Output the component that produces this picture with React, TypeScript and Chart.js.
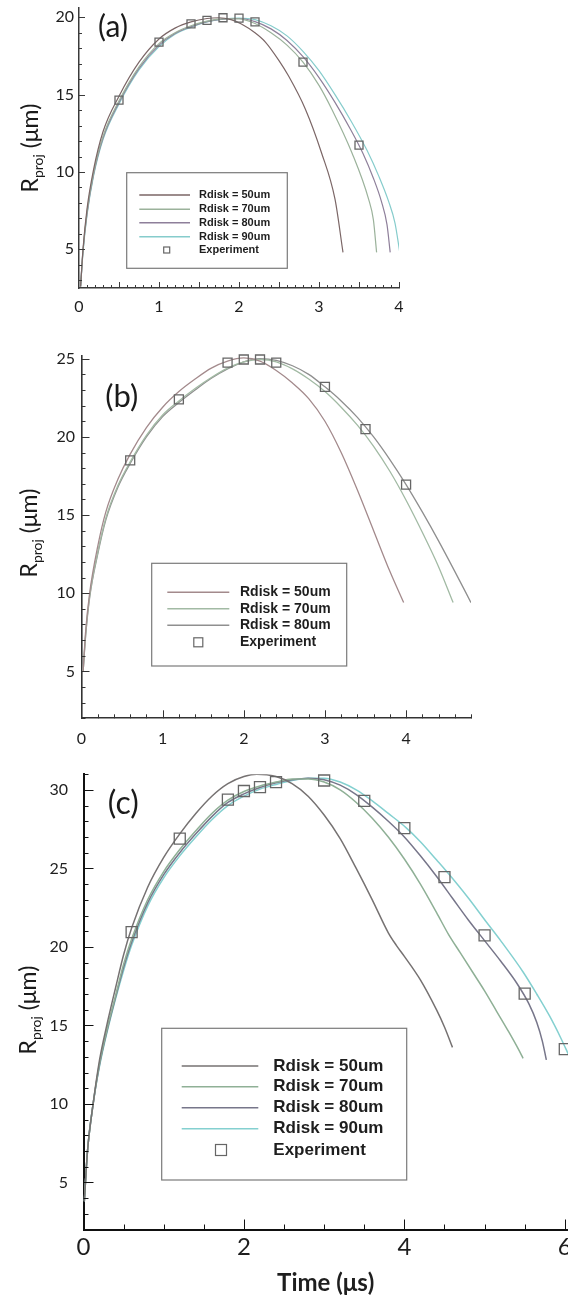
import React, { useEffect, useRef } from 'react';
import { Chart, registerables } from 'chart.js';

Chart.register(...registerables);

// ---------------- Panel (a) data ----------------
const tA50 = [0.02, 0.05, 0.1, 0.18, 0.3, 0.5, 0.75, 1.0, 1.2, 1.4, 1.6, 1.75, 1.9, 2.03, 2.2, 2.33, 2.5, 2.62, 2.83, 3.03, 3.2, 3.3];
const rA50 = [2.6, 5.0, 7.6, 10.1, 12.6, 14.9, 17.1, 18.6, 19.3, 19.7, 19.92, 19.97, 19.85, 19.57, 19.0, 18.4, 17.2, 16.2, 14.06, 11.26, 8.24, 4.8];
const tA70 = [0.02, 0.05, 0.1, 0.18, 0.3, 0.5, 0.75, 1.0, 1.2, 1.4, 1.6, 1.8, 2.0, 2.2, 2.4, 2.6, 2.8, 3.0, 3.16, 3.41, 3.62, 3.68, 3.72];
const rA70 = [2.6, 4.9, 7.4, 9.9, 12.3, 14.6, 16.8, 18.3, 19.0, 19.45, 19.75, 19.9, 19.9, 19.6, 19.0, 18.2, 17.1, 15.6, 14.06, 11.26, 8.24, 6.9, 4.8];
const tA80 = [0.02, 0.05, 0.1, 0.18, 0.3, 0.5, 0.75, 1.0, 1.2, 1.4, 1.6, 1.8, 2.0, 2.2, 2.4, 2.6, 2.8, 3.0, 3.2, 3.4, 3.55, 3.68, 3.78, 3.85, 3.89];
const rA80 = [2.6, 4.9, 7.3, 9.8, 12.2, 14.5, 16.7, 18.2, 18.95, 19.4, 19.72, 19.88, 19.92, 19.72, 19.25, 18.5, 17.45, 16.1, 14.5, 12.7, 11.2, 9.6, 8.1, 6.6, 4.8];
const tA90 = [0.02, 0.05, 0.1, 0.18, 0.3, 0.5, 0.75, 1.0, 1.2, 1.4, 1.6, 1.8, 2.0, 2.2, 2.4, 2.6, 2.8, 3.0, 3.2, 3.4, 3.6, 3.75, 3.87, 3.95, 4.01];
const rA90 = [2.6, 4.8, 7.2, 9.7, 12.1, 14.4, 16.6, 18.1, 18.9, 19.35, 19.7, 19.88, 19.95, 19.85, 19.45, 18.8, 17.8, 16.55, 15.0, 13.3, 11.4, 9.7, 8.1, 6.7, 4.8];
const tAexp = [0.5, 1.0, 1.4, 1.6, 1.8, 2.0, 2.2, 2.8, 3.5];
const rAexp = [14.65, 18.4, 19.58, 19.8, 19.97, 19.95, 19.7, 17.1, 11.73];
const xTicksA = [0, 1, 2, 3, 4];
const yTicksA = [5, 10, 15, 20];

// ---------------- Panel (b) data ----------------
const tB50 = [0.02, 0.05, 0.1, 0.2, 0.3, 0.45, 0.6, 0.8, 1.0, 1.2, 1.4, 1.6, 1.8, 2.0, 2.2, 2.4, 2.6, 2.8, 3.0, 3.2, 3.4, 3.6, 3.8, 3.97];
const rB50 = [5.0, 7.5, 10.0, 13.0, 15.2, 17.3, 18.9, 20.6, 21.9, 22.9, 23.7, 24.4, 24.85, 25.05, 24.85, 24.25, 23.45, 22.45, 21.0, 19.0, 16.6, 14.0, 11.4, 9.4];
const tB70 = [0.02, 0.05, 0.1, 0.2, 0.3, 0.45, 0.6, 0.8, 1.0, 1.2, 1.4, 1.6, 1.8, 2.0, 2.2, 2.4, 2.6, 2.8, 3.0, 3.2, 3.4, 3.6, 3.8, 4.0, 4.2, 4.4, 4.58];
const rB70 = [5.0, 7.3, 9.8, 12.6, 14.8, 16.9, 18.4, 20.1, 21.4, 22.3, 23.1, 23.8, 24.4, 24.8, 24.95, 24.8, 24.35, 23.7, 22.9, 21.9, 20.75, 19.4, 17.8, 15.95, 13.9, 11.7, 9.4];
const tB80 = [0.02, 0.05, 0.1, 0.2, 0.3, 0.45, 0.6, 0.8, 1.0, 1.2, 1.4, 1.6, 1.8, 2.0, 2.2, 2.4, 2.6, 2.8, 3.0, 3.2, 3.4, 3.6, 3.8, 4.0, 4.2, 4.4, 4.6, 4.8];
const rB80 = [5.0, 7.2, 9.7, 12.5, 14.7, 16.8, 18.3, 20.0, 21.3, 22.2, 23.0, 23.75, 24.35, 24.8, 25.0, 24.9, 24.55, 24.0, 23.2, 22.3, 21.25, 20.0, 18.55, 16.95, 15.2, 13.35, 11.4, 9.4];
const tBexp = [0.6, 1.2, 1.8, 2.0, 2.2, 2.4, 3.0, 3.5, 4.0];
const rBexp = [18.5, 22.4, 24.75, 24.95, 24.95, 24.75, 23.2, 20.5, 16.95];
const xTicksB = [0, 1, 2, 3, 4];
const yTicksB = [5, 10, 15, 20, 25];

// ---------------- Panel (c) data ----------------
const tC50 = [0.01, 0.05, 0.12, 0.2, 0.29, 0.4, 0.5, 0.6, 0.8, 1.0, 1.2, 1.4, 1.6, 1.8, 2.0, 2.16, 2.4, 2.6, 2.8, 3.0, 3.2, 3.4, 3.6, 3.8, 3.9, 4.0, 4.2, 4.4, 4.5, 4.6];
const rC50 = [3.8, 7.0, 10.0, 12.8, 15.0, 17.4, 19.5, 21.2, 23.8, 25.7, 27.2, 28.5, 29.6, 30.4, 30.85, 31.0, 30.85, 30.4, 29.6, 28.4, 26.9, 25.0, 23.0, 20.9, 20.1, 19.4, 17.9, 16.0, 14.9, 13.6];
const tC70 = [0.01, 0.05, 0.12, 0.2, 0.3, 0.4, 0.5, 0.6, 0.8, 1.0, 1.2, 1.4, 1.6, 1.8, 2.0, 2.2, 2.4, 2.6, 2.8, 3.0, 3.2, 3.4, 3.6, 3.8, 4.0, 4.2, 4.4, 4.55, 4.7, 4.85, 5.0, 5.15, 5.3, 5.42, 5.48];
const rC70 = [3.8, 7.0, 10.0, 12.6, 14.9, 16.9, 18.9, 20.5, 23.0, 24.8, 26.2, 27.4, 28.5, 29.35, 29.9, 30.25, 30.5, 30.7, 30.7, 30.5, 30.0, 29.2, 28.2, 27.0, 25.6, 24.0, 22.2, 20.8, 19.6, 18.4, 17.2, 15.9, 14.6, 13.5, 12.9];
const tC80 = [0.01, 0.05, 0.12, 0.2, 0.3, 0.4, 0.5, 0.6, 0.8, 1.0, 1.2, 1.4, 1.6, 1.8, 2.0, 2.2, 2.4, 2.6, 2.8, 3.0, 3.2, 3.4, 3.6, 3.8, 4.0, 4.2, 4.4, 4.6, 4.8, 5.0, 5.2, 5.4, 5.55, 5.65, 5.72, 5.77];
const rC80 = [3.8, 7.0, 10.0, 12.5, 14.8, 16.8, 18.7, 20.3, 22.8, 24.6, 26.0, 27.2, 28.3, 29.2, 29.75, 30.15, 30.45, 30.65, 30.75, 30.65, 30.3, 29.7, 28.9, 28.0, 27.0, 25.8, 24.5, 23.1, 21.7, 20.4, 19.1, 17.7, 16.4, 15.2, 14.0, 12.8];
const tC90 = [0.01, 0.05, 0.12, 0.2, 0.3, 0.4, 0.5, 0.6, 0.8, 1.0, 1.2, 1.4, 1.6, 1.8, 2.0, 2.2, 2.4, 2.6, 2.8, 3.0, 3.2, 3.4, 3.6, 3.8, 4.02, 4.2, 4.4, 4.52, 4.8, 5.02, 5.2, 5.48, 5.65, 5.81, 5.95, 6.05];
const rC90 = [3.8, 7.0, 10.0, 12.4, 14.7, 16.7, 18.5, 20.1, 22.6, 24.4, 25.8, 27.0, 28.1, 29.0, 29.6, 30.05, 30.35, 30.6, 30.75, 30.75, 30.5, 30.0, 29.3, 28.5, 27.6, 26.7, 25.55, 24.85, 23.1, 21.6, 20.4, 18.4, 17.0, 15.6, 14.2, 13.1];
const tCexp = [0.6, 1.2, 1.8, 2.0, 2.2, 2.4, 3.0, 3.5, 4.0, 4.5, 5.0, 5.5, 6.0];
const rCexp = [20.94, 26.9, 29.38, 29.93, 30.18, 30.5, 30.6, 29.3, 27.56, 24.44, 20.74, 17.03, 13.49];
const xTicksC = [0, 2, 4, 6];
const yTicksC = [5, 10, 15, 20, 25, 30];

const seriesNames = ['Rdisk = 50um', 'Rdisk = 70um', 'Rdisk = 80um', 'Rdisk = 90um'];
const expName = 'Experiment';
const panelTags = ['(a)', '(b)', '(c)'];
const xTitleC = 'Time (μs)';

const TICK_FONT = 'Lato, "Open Sans", sans-serif';
const LEG_FONT = '"Liberation Sans", Arial, sans-serif';

type Series = { t: number[]; r: number[]; color: string };
type AxisSpec = {
  min: number; max: number; ticks: number[]; minor: number; major: number;
  majorLen: number; minorLen: number; font: number; pad: number;
};
type Panel = {
  top: number; height: number;
  area: { left: number; right: number; top: number; bottom: number };
  x: AxisSpec; y: AxisSpec;
  axisColor: string; axisWidth: number; lineWidth: number;
  series: Series[];
  exp: { t: number[]; r: number[]; side: number };
  tag: { text: string; x: number; y: number; size: number };
  yTitle: { x: number; y: number; size: number; sub: number };
  xTitle?: { text: string; size: number; center: number };
  legend: { box: number[]; line: number[]; textX: number; rows: number[]; font: number; sqX: number; sqSide: number };
};

const panels: Panel[] = [
  {
    top: 0, height: 325,
    area: { left: 79, right: 399, top: 8, bottom: 288 },
    x: { min: 0, max: 4, ticks: xTicksA, minor: 0.1, major: 0.5, majorLen: 6, minorLen: 3, font: 16, pad: 9.4 },
    y: { min: 2.5, max: 20.6, ticks: yTicksA, minor: 1, major: 5, majorLen: 6, minorLen: 3, font: 16, pad: 5 },
    axisColor: '#3a3a3a', axisWidth: 1.5, lineWidth: 1.2,
    series: [
      { t: tA50, r: rA50, color: '#7b6666' },
      { t: tA70, r: rA70, color: '#9bb29b' },
      { t: tA80, r: rA80, color: '#8e7f9a' },
      { t: tA90, r: rA90, color: '#86cccc' },
    ],
    exp: { t: tAexp, r: rAexp, side: 8 },
    tag: { text: panelTags[0], x: 113, y: 27.5, size: 30 },
    yTitle: { x: 30, y: 148, size: 23, sub: 14 },
    legend: { box: [126.7, 172.7, 287.3, 268.3], line: [139.3, 190], textX: 199, rows: [195, 209.3, 222.7, 236.7, 250], font: 11, sqX: 166.7, sqSide: 6 },
  },
  {
    top: 330, height: 430,
    area: { left: 81.5, right: 471, top: 355.6, bottom: 718.3 },
    x: { min: 0, max: 4.8, ticks: xTicksB, minor: 0.2, major: 1, majorLen: 8, minorLen: 4, font: 16, pad: 11 },
    y: { min: 2, max: 25.2, ticks: yTicksB, minor: 1, major: 5, majorLen: 8, minorLen: 4, font: 16, pad: 6.5 },
    axisColor: '#333', axisWidth: 1.6, lineWidth: 1.3,
    series: [
      { t: tB50, r: rB50, color: '#a38a8c' },
      { t: tB70, r: rB70, color: '#a2baa4' },
      { t: tB80, r: rB80, color: '#8f8f8f' },
    ],
    exp: { t: tBexp, r: rBexp, side: 9 },
    tag: { text: panelTags[1], x: 121.7, y: 396.7, size: 31 },
    yTitle: { x: 29, y: 533, size: 23, sub: 14 },
    legend: { box: [151.7, 563.3, 346.7, 666], line: [167.3, 229.3], textX: 240, rows: [592.3, 608.7, 625.3, 642.3], font: 14, sqX: 198.3, sqSide: 9 },
  },
  {
    top: 760, height: 542,
    area: { left: 83.5, right: 568, top: 774.2, bottom: 1229.5 },
    x: { min: 0, max: 6.04, ticks: xTicksC, minor: 0.5, major: 2, majorLen: 10, minorLen: 5, font: 24, pad: 3.1 },
    y: { min: 2, max: 31, ticks: yTicksC, minor: 1, major: 5, majorLen: 10, minorLen: 5, font: 16, pad: 15.5 },
    axisColor: '#111', axisWidth: 2, lineWidth: 1.5,
    series: [
      { t: tC50, r: rC50, color: '#767272' },
      { t: tC70, r: rC70, color: '#8fb096' },
      { t: tC80, r: rC80, color: '#77768a' },
      { t: tC90, r: rC90, color: '#84d0d0' },
    ],
    exp: { t: tCexp, r: rCexp, side: 11 },
    tag: { text: panelTags[2], x: 123.3, y: 804, size: 32 },
    yTitle: { x: 28, y: 1010, size: 23, sub: 14 },
    xTitle: { text: xTitleC, size: 24, center: 1283 },
    legend: { box: [161.7, 1028.3, 406.7, 1180], line: [181.7, 258.3], textX: 273.3, rows: [1066, 1086.7, 1107.7, 1128.7, 1150], font: 17, sqX: 221, sqSide: 11 },
  },
];

function pairs(t: number[], r: number[]) {
  return t.map((x, i) => ({ x, y: r[i] }));
}

function makeDecor(p: Panel) {
  return {
    id: 'decor',
    afterDraw(chart: any) {
      const ctx: CanvasRenderingContext2D = chart.ctx;
      const xs = chart.scales.x;
      const ys = chart.scales.y;
      const ca = chart.chartArea;
      const off = p.top;
      ctx.save();
      // inward tick marks
      ctx.strokeStyle = p.axisColor;
      ctx.lineWidth = 1;
      const nX = Math.round((p.x.max - p.x.min) / p.x.minor);
      for (let i = 1; i <= nX; i++) {
        const v = p.x.min + i * p.x.minor;
        const q = v / p.x.major;
        const isMaj = Math.abs(q - Math.round(q)) < 1e-6;
        const len = isMaj ? p.x.majorLen : p.x.minorLen;
        const px = Math.round(xs.getPixelForValue(v)) + 0.5;
        ctx.beginPath();
        ctx.moveTo(px, ca.bottom);
        ctx.lineTo(px, ca.bottom - len);
        ctx.stroke();
      }
      const y0 = Math.ceil(p.y.min / p.y.minor - 1e-9) * p.y.minor;
      const nY = Math.floor((p.y.max - y0) / p.y.minor + 1e-9);
      for (let i = 0; i <= nY; i++) {
        const v = y0 + i * p.y.minor;
        const q = v / p.y.major;
        const isMaj = Math.abs(q - Math.round(q)) < 1e-6;
        const len = isMaj ? p.y.majorLen : p.y.minorLen;
        const py = Math.round(ys.getPixelForValue(v)) + 0.5;
        ctx.beginPath();
        ctx.moveTo(ca.left, py);
        ctx.lineTo(ca.left + len, py);
        ctx.stroke();
      }

      // panel tag
      ctx.fillStyle = '#1a1a1a';
      ctx.font = `${p.tag.size}px ${TICK_FONT}`;
      ctx.textAlign = 'center';
      ctx.textBaseline = 'middle';
      ctx.fillText(p.tag.text, p.tag.x, p.tag.y - off);

      // y title with subscript
      const yt = p.yTitle;
      ctx.save();
      ctx.translate(yt.x, yt.y - off);
      ctx.rotate(-Math.PI / 2);
      ctx.textAlign = 'left';
      ctx.textBaseline = 'alphabetic';
      ctx.font = `${yt.size}px ${TICK_FONT}`;
      const wR = ctx.measureText('R').width;
      const wU = ctx.measureText(' (μm)').width;
      ctx.font = `${yt.sub}px ${TICK_FONT}`;
      const wP = ctx.measureText('proj').width;
      const total = wR + wP + wU;
      let cx = -total / 2;
      const base = yt.size * 0.36;
      ctx.fillStyle = '#1a1a1a';
      ctx.font = `${yt.size}px ${TICK_FONT}`;
      ctx.fillText('R', cx, base);
      cx += wR;
      ctx.font = `${yt.sub}px ${TICK_FONT}`;
      ctx.fillText('proj', cx, base + yt.size * 0.22);
      cx += wP;
      ctx.font = `${yt.size}px ${TICK_FONT}`;
      ctx.fillText(' (μm)', cx, base);
      ctx.restore();

      // legend
      const lg = p.legend;
      ctx.strokeStyle = '#7a7a7a';
      ctx.lineWidth = 1.2;
      ctx.strokeRect(lg.box[0], lg.box[1] - off, lg.box[2] - lg.box[0], lg.box[3] - lg.box[1]);
      ctx.font = `bold ${lg.font}px ${LEG_FONT}`;
      ctx.textAlign = 'left';
      ctx.textBaseline = 'middle';
      const ds = chart.data.datasets;
      const lineSets = ds.filter((d: any) => d.showLine !== false);
      const expSet = ds.find((d: any) => d.showLine === false);
      lineSets.forEach((d: any, i: number) => {
        const yy = lg.rows[i] - off;
        ctx.strokeStyle = d.borderColor;
        ctx.lineWidth = 1.5;
        ctx.beginPath();
        ctx.moveTo(lg.line[0], yy);
        ctx.lineTo(lg.line[1], yy);
        ctx.stroke();
        ctx.fillStyle = '#1e1e1e';
        ctx.fillText(d.label, lg.textX, yy);
      });
      if (expSet) {
        const yy = lg.rows[lineSets.length] - off;
        ctx.strokeStyle = expSet.borderColor;
        ctx.lineWidth = 1.2;
        const s = lg.sqSide;
        ctx.strokeRect(lg.sqX - s / 2, yy - s / 2, s, s);
        ctx.fillStyle = '#1e1e1e';
        ctx.fillText(expSet.label, lg.textX, yy);
      }
      ctx.restore();
    },
  };
}

function PanelChart({ p }: { p: Panel }) {
  const ref = useRef<HTMLCanvasElement | null>(null);
  useEffect(() => {
    if (!ref.current) return;
    const H = p.height;
    const datasets: any[] = [
      {
        label: expName,
        data: pairs(p.exp.t, p.exp.r),
        showLine: false,
        pointStyle: 'rect',
        pointRadius: p.exp.side / Math.SQRT2,
        pointBorderWidth: 1.3,
        pointBorderColor: '#666',
        pointBackgroundColor: 'rgba(255,255,255,0)',
        borderColor: '#666',
        backgroundColor: 'rgba(255,255,255,0)',
        order: 0,
        clip: false,
      },
      ...p.series.map((s, i) => ({
        label: seriesNames[i],
        data: pairs(s.t, s.r),
        showLine: true,
        borderColor: s.color,
        backgroundColor: s.color,
        borderWidth: p.lineWidth,
        pointRadius: 0,
        fill: false,
        cubicInterpolationMode: 'monotone',
        order: i + 1,
      })),
    ];
    const legendOrder = [...datasets.slice(1), datasets[0]];
    const chart = new Chart(ref.current, {
      type: 'line',
      data: { datasets: legendOrder },
      options: {
        responsive: false,
        animation: false,
        events: [],
        layout: {
          autoPadding: false,
          padding: { left: 0, right: 568 - p.area.right, top: p.area.top - p.top, bottom: 0 },
        },
        plugins: { legend: { display: false }, tooltip: { enabled: false } },
        scales: {
          x: {
            type: 'linear',
            min: p.x.min,
            max: p.x.max,
            grid: { display: false, drawTicks: false },
            border: { display: true, color: p.axisColor, width: p.axisWidth },
            ticks: {
              font: { family: TICK_FONT, size: p.x.font },
              color: '#1e1e1e',
              padding: p.x.pad,
              maxRotation: 0,
              autoSkip: false,
              callback: (v: any) => String(v),
            },
            title: p.xTitle
              ? {
                  display: true,
                  text: p.xTitle.text,
                  color: '#1e1e1e',
                  font: { family: TICK_FONT, size: p.xTitle.size, weight: 'bold' },
                  padding: { top: 0, bottom: (p.top + H - p.xTitle.center) - p.xTitle.size * 0.6 },
                }
              : { display: false },
            afterBuildTicks: (s: any) => {
              s.ticks = p.x.ticks.map((v) => ({ value: v }));
            },
            afterFit: (s: any) => {
              s.height = p.top + H - p.area.bottom;
              s.paddingLeft = 0;
              s.paddingRight = 0;
            },
          },
          y: {
            type: 'linear',
            min: p.y.min,
            max: p.y.max,
            grid: { display: false, drawTicks: false },
            border: { display: true, color: p.axisColor, width: p.axisWidth },
            ticks: {
              font: { family: TICK_FONT, size: p.y.font },
              color: '#1e1e1e',
              padding: p.y.pad,
              autoSkip: false,
              callback: (v: any) => String(v),
            },
            afterBuildTicks: (s: any) => {
              s.ticks = p.y.ticks.map((v) => ({ value: v }));
            },
            afterFit: (s: any) => {
              s.width = p.area.left;
              s.paddingTop = 0;
              s.paddingBottom = 0;
            },
          },
        },
      } as any,
      plugins: [makeDecor(p)],
    });
    return () => chart.destroy();
  }, [p]);
  return (
    <canvas
      ref={ref}
      width={568}
      height={p.height}
      style={{ position: 'absolute', left: 0, top: p.top, width: 568, height: p.height }}
    />
  );
}

export default function App() {
  return (
    <div style={{ position: 'absolute', left: 0, top: 0, width: 568, height: 1302, background: '#fff', overflow: 'hidden' }}>
      {panels.map((p, i) => (
        <PanelChart key={i} p={p} />
      ))}
    </div>
  );
}
